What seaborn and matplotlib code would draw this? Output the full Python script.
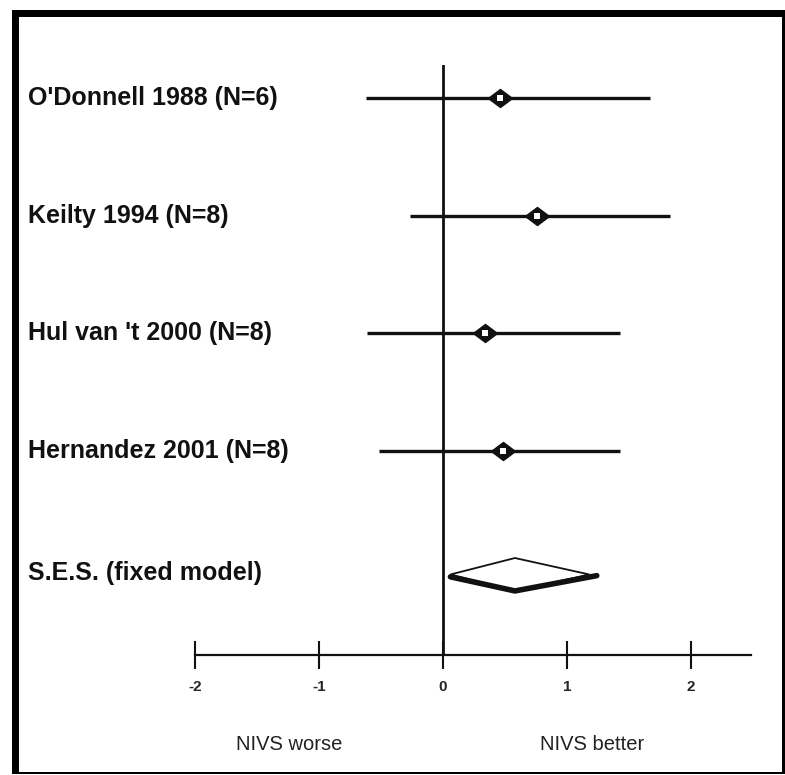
import matplotlib
matplotlib.use("Agg")
import matplotlib.pyplot as plt
from matplotlib.patches import Polygon, Rectangle
import seaborn as sns
import pandas as pd

studies = ["O'Donnell 1988 (N=6)", "Keilty 1994 (N=8)", "Hul van 't 2000 (N=8)", "Hernandez 2001 (N=8)"]
effect = [0.46, 0.76, 0.34, 0.48]
ci_low = [-0.62, -0.27, -0.61, -0.52]
ci_high = [1.67, 1.83, 1.43, 1.43]
pooled_label = "S.E.S. (fixed model)"
pooled_est = 0.58
pooled_low = 0.06
pooled_high = 1.18
ticks = [-2, -1, 0, 1, 2]
tick_labels = ["-2", "-1", "0", "1", "2"]
left_note = "NIVS worse"
right_note = "NIVS better"

sns.set_theme(style="white")
plt.rcParams['font.family'] = ['Liberation Sans', 'DejaVu Sans']

W, H = 785, 775
fig = plt.figure(figsize=(W / 100, H / 100), dpi=100)
ax_left_px, ax_right_px, ax_top_px, ax_bot_px = 195, 751, 65, 655
ax = fig.add_axes([ax_left_px / W, 1 - ax_bot_px / H,
                   (ax_right_px - ax_left_px) / W, (ax_bot_px - ax_top_px) / H])

df = pd.DataFrame({"study": studies, "effect": effect, "lo": ci_low, "hi": ci_high})
df["row"] = range(len(df))
pooled_row = len(df)

ax.hlines(df["row"], df["lo"], df["hi"], color="#111111", lw=2.4, zorder=2)
rhomb = [(-1, 0), (0, 0.75), (1, 0), (0, -0.75), (-1, 0)]
sns.scatterplot(data=df, x="effect", y="row", marker=rhomb, s=300, color="#111111",
                edgecolor="#111111", linewidth=1, ax=ax, zorder=3, legend=False)
sns.scatterplot(data=df, x="effect", y="row", marker="s", s=14, color="white",
                edgecolor="white", linewidth=0, ax=ax, zorder=4, legend=False)

# pooled diamond
h = 0.14
pr = pooled_row + 0.05
diamond = Polygon([(pooled_low, pr), (pooled_est, pr - h),
                   (pooled_high, pr), (pooled_est, pr + h)],
                  closed=True, facecolor="white", edgecolor="#111111", lw=1.3, zorder=3)
ax.add_patch(diamond)
ax.plot([pooled_low, pooled_est, pooled_high + 0.06], [pr + 0.02, pr + h, pr + 0.01],
        color="#111111", lw=4, zorder=4, solid_capstyle="round")

ax.axvline(0, color="#111111", lw=2.0, zorder=1)

ax.set_xlim(-2, (ax_right_px - 443) / 124)
y_top = (ax_top_px - 98.2) / 117.6
y_bot = (ax_bot_px - 98.2) / 117.6
ax.set_ylim(y_bot, y_top)

for s in ["top", "right", "left"]:
    ax.spines[s].set_visible(False)
ax.spines["bottom"].set_color("#111111")
ax.spines["bottom"].set_linewidth(1.6)
ax.set_yticks([])
ax.set_xticks(ticks)
ax.set_xticklabels(tick_labels, fontsize=11, fontweight="bold")
ax.tick_params(axis="x", direction="inout", length=20, width=1.5, color="#111111", pad=8,
               bottom=True)
ax.set_xlabel("")
ax.set_ylabel("")

label_x = 28
for i, s in enumerate(list(studies) + [pooled_label]):
    y_px = ax.transData.transform((0, i))[1]
    fig.text(label_x / W, y_px / H + (0.0 if i < len(studies) else -0.006), s,
             fontsize=18, fontweight="bold", va="center", ha="left", color="#111111")

fig.text(289 / W, 1 - 745 / H, left_note, fontsize=14.5, ha="center", va="center", color="#222222")
fig.text(592 / W, 1 - 745 / H, right_note, fontsize=14.5, ha="center", va="center", color="#222222")

def frame_rect(x0, y0, x1, y1):
    fig.patches.append(Rectangle((x0 / W, 1 - y1 / H), (x1 - x0) / W, (y1 - y0) / H,
                                 transform=fig.transFigure, facecolor="black",
                                 edgecolor="none", zorder=10))

frame_rect(12, 10, 785, 17)    # top
frame_rect(12, 10, 19, 774)    # left
frame_rect(782, 10, 785, 774)  # right
frame_rect(12, 772, 785, 774)  # bottom

fig.savefig("out.png", dpi=100)
